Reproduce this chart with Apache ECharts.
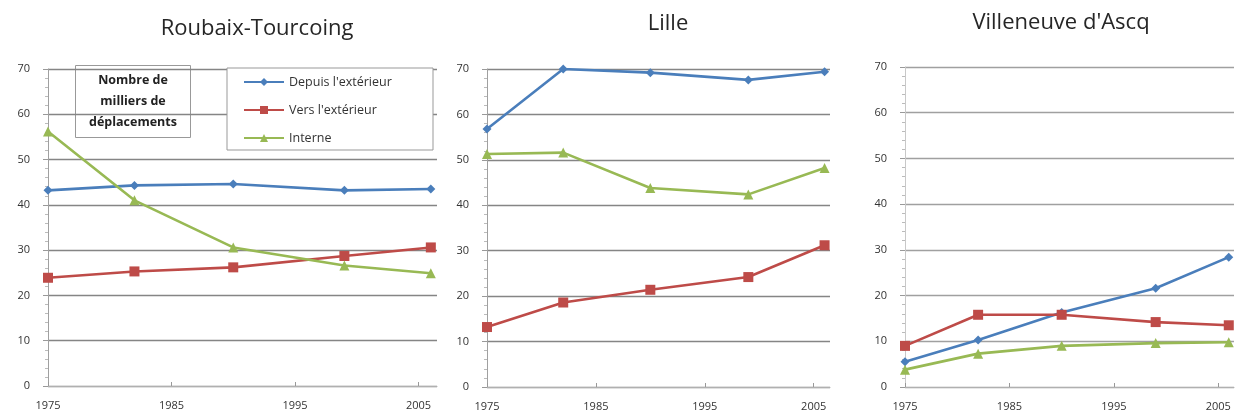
<!DOCTYPE html>
<html>
<head>
<meta charset="utf-8">
<script src="https://cdn.jsdelivr.net/npm/echarts@6/dist/echarts.min.js"></script>
<style>
  html, body { margin: 0; padding: 0; background: #ffffff; }
  #chart { width: 1238px; height: 417px; }
</style>
</head>
<body>
<div id="chart"></div>
<script>
// Census years and commuting flows (thousands of trips)
const years = [1975, 1982, 1990, 1999, 2006];
const yearTicks = [1975, 1985, 1995, 2005];
const seriesNames = ["Depuis l'extérieur", "Vers l'extérieur", "Interne"];
const panelTitles = ['Roubaix-Tourcoing', 'Lille', "Villeneuve d'Ascq"];

const rtDepuis  = [43.2, 44.3, 44.6, 43.2, 43.5];
const rtVers    = [23.9, 25.3, 26.2, 28.7, 30.6];
const rtInterne = [56.2, 41.0, 30.6, 26.6, 24.9];

const lilleDepuis  = [56.8, 70.0, 69.2, 67.6, 69.4];
const lilleVers    = [13.2, 18.6, 21.4, 24.2, 31.2];
const lilleInterne = [51.3, 51.6, 43.8, 42.4, 48.2];

const vaDepuis  = [5.5, 10.3, 16.3, 21.6, 28.4];
const vaVers    = [9.0, 15.8, 15.8, 14.2, 13.5];
const vaInterne = [3.8, 7.3, 9.0, 9.6, 9.8];

const panels = [
  [rtDepuis, rtVers, rtInterne],
  [lilleDepuis, lilleVers, lilleInterne],
  [vaDepuis, vaVers, vaInterne]
];

const FONT = '"Open Sans", Lato, sans-serif';
const colors = ['#4A7EBB', '#BE4B48', '#98B954'];
const symbols = ['diamond', 'rect', 'triangle'];
const symbolSizes = [9, 10, 10];

const grids = [
  { left: 48,  width: 389, top: 69, height: 317 },
  { left: 487, width: 343, top: 69, height: 318 },
  { left: 905, width: 329, top: 67, height: 320 }
];

const xAxes = grids.map((g, i) => ({
  type: 'value', gridIndex: i, min: 1975, max: 2006.5,
  axisLine: { show: true, lineStyle: { color: '#b0b0b0', width: 1 } },
  axisTick: { show: true, inside: true, length: 4, customValues: yearTicks, lineStyle: { color: '#999' } },
  axisLabel: { customValues: yearTicks, formatter: v => String(v), color: '#333', fontSize: 11, fontFamily: FONT, margin: 14 },
  splitLine: { show: false }
}));

const yAxes = grids.map((g, i) => ({
  type: 'value', gridIndex: i, min: 0, max: 70, interval: 10,
  axisLine: { show: true, lineStyle: { color: i === 2 ? '#c8c8c8' : '#a0a0a0', width: 1 } },
  axisTick: { show: true, length: 5, lineStyle: { color: '#999' } },
  minorTick: { show: true, splitNumber: 5, length: 3, lineStyle: { color: '#bbb' } },
  axisLabel: { formatter: v => String(v), color: '#333', fontSize: 11, fontFamily: FONT, margin: 18 },
  splitLine: { show: true, lineStyle: { color: i === 2 ? '#a0a0a0' : '#858585', width: 1.3 } }
}));

const series = [];
panels.forEach((vals, p) => {
  vals.forEach((arr, k) => {
    series.push({
      name: seriesNames[k],
      type: 'line',
      xAxisIndex: p, yAxisIndex: p,
      data: years.map((yr, j) => [yr, arr[j]]),
      symbol: symbols[k],
      symbolSize: symbolSizes[k],
      showAllSymbol: true,
      lineStyle: { color: colors[k], width: 2.6 },
      itemStyle: { color: colors[k] },
      z: 3 + k,
      animation: false
    });
  });
});

const titleCenters = [[252, 13], [663, 8], [1056, 7]];

const option = {
  backgroundColor: '#ffffff',
  animation: false,
  textStyle: { fontFamily: FONT },
  title: panelTitles.map((t, i) => ({
    text: t,
    left: titleCenters[i][0], top: titleCenters[i][1],
    textAlign: 'center',
    textStyle: { fontSize: 22, fontWeight: 'normal', color: '#262626', fontFamily: FONT }
  })),
  grid: grids,
  xAxis: xAxes,
  yAxis: yAxes,
  legend: {
    data: seriesNames,
    orient: 'vertical',
    left: 227, top: 68,
    padding: [7, 14, 5, 16],
    itemGap: 14,
    itemWidth: 40, itemHeight: 10,
    backgroundColor: '#ffffff',
    borderColor: '#999', borderWidth: 1,
    textStyle: { fontSize: 12.5, lineHeight: 14, color: '#333', fontFamily: FONT, width: 130 },
    selectedMode: false
  },
  graphic: [{
    type: 'group', left: 75, top: 65, z: 20,
    children: [
      { type: 'rect', shape: { x: 0, y: 0, width: 115, height: 72 },
        style: { fill: '#ffffff', stroke: '#999', lineWidth: 1 } },
      { type: 'text', x: 57.5, y: 36,
        style: { text: 'Nombre de\nmilliers de\ndéplacements', textAlign: 'center', textVerticalAlign: 'middle',
                 font: 'bold 12.5px ' + FONT, fill: '#222', lineHeight: 21 } }
    ]
  }],
  series: series
};

const chart = echarts.init(document.getElementById('chart'), null, { renderer: 'canvas' });
chart.setOption(option);
</script>
</body>
</html>
